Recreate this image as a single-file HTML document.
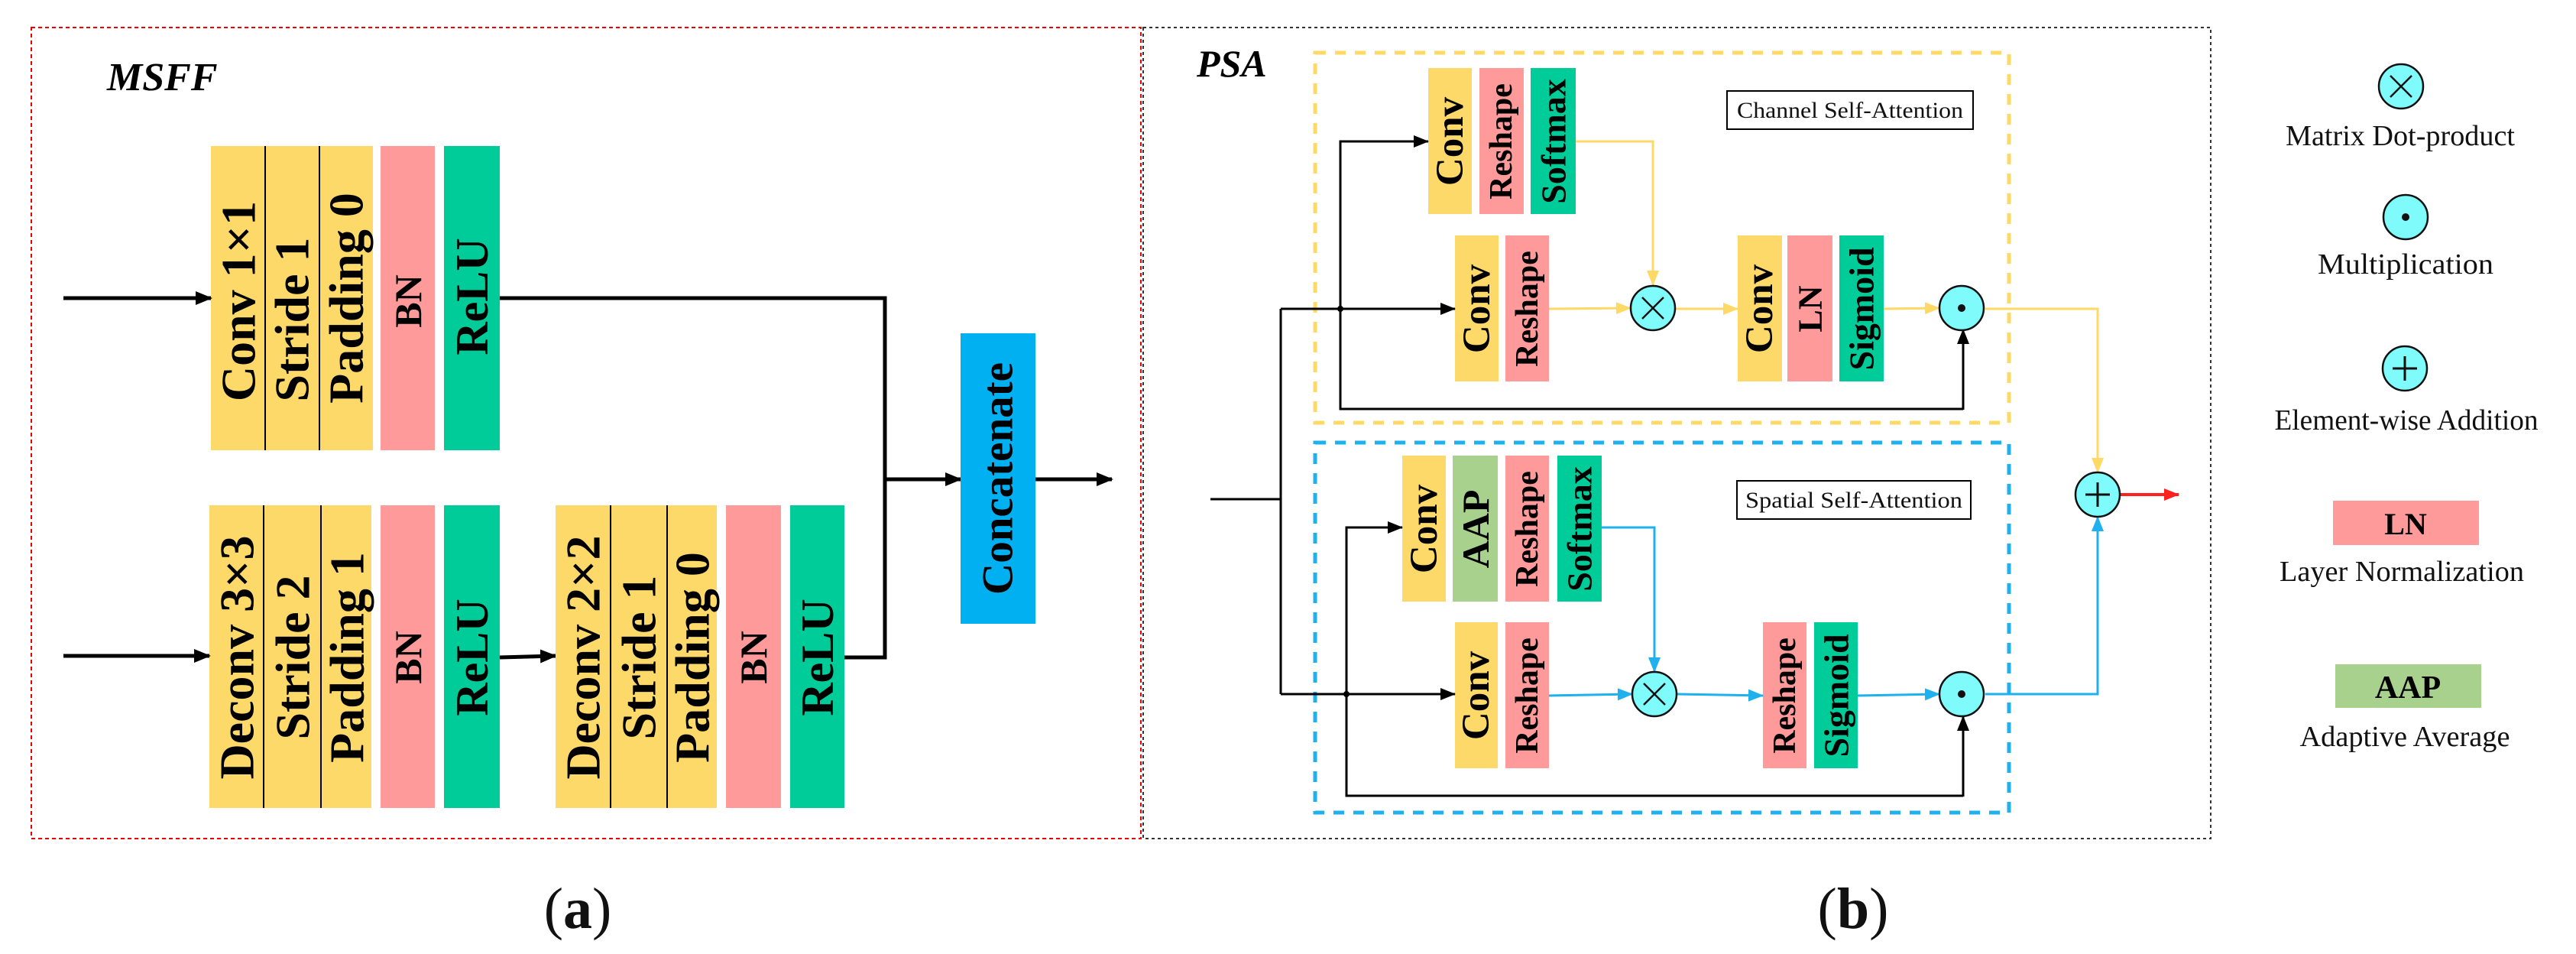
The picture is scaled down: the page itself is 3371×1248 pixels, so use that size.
<!DOCTYPE html>
<html><head><meta charset="utf-8"><style>
html,body{margin:0;padding:0;background:#fff;}
svg{display:block;font-family:"Liberation Serif","DejaVu Serif",serif;}
svg text{font-family:"Liberation Serif","DejaVu Serif",serif;}
.b{font-weight:bold;fill:#000;}
.r{fill:#111;}
</style></head><body>
<svg width="3371" height="1248" viewBox="0 0 3371 1248" xmlns="http://www.w3.org/2000/svg" font-family="Liberation Serif, DejaVu Serif, serif">
<defs>
<marker id="akb" markerWidth="22" markerHeight="22" refX="20" refY="11" orient="auto" markerUnits="userSpaceOnUse"><path d="M0,2 L22,11 L0,20 z" fill="#000"/></marker>
<marker id="ay" markerWidth="20" markerHeight="18" refX="19" refY="9" orient="auto" markerUnits="userSpaceOnUse"><path d="M0,1 L20,9 L0,17 z" fill="#ffd966"/></marker>
<marker id="ab" markerWidth="20" markerHeight="18" refX="19" refY="9" orient="auto" markerUnits="userSpaceOnUse"><path d="M0,1 L20,9 L0,17 z" fill="#1fb0ee"/></marker>
<marker id="ar" markerWidth="20" markerHeight="18" refX="19" refY="9" orient="auto" markerUnits="userSpaceOnUse"><path d="M0,1 L20,9 L0,17 z" fill="#ff2020"/></marker>
<marker id="ak2" markerWidth="20" markerHeight="18" refX="19" refY="9" orient="auto" markerUnits="userSpaceOnUse"><path d="M0,1 L20,9 L0,17 z" fill="#000"/></marker>
</defs>

<!-- MSFF box -->
<rect x="41" y="36" width="1452" height="1061" fill="none" stroke="#e00" stroke-width="2" stroke-dasharray="5,4"/>
<text x="140" y="118" class="b" font-style="italic" font-size="52">MSFF</text>

<!-- top row -->
<rect x="276" y="191" width="212" height="398" fill="#fdd96a"/>
<line x1="347" y1="191" x2="347" y2="589" stroke="#000" stroke-width="2"/>
<line x1="418" y1="191" x2="418" y2="589" stroke="#000" stroke-width="2"/>
<rect x="498" y="191" width="71" height="398" fill="#ff9a9a"/>
<rect x="581" y="191" width="73" height="398" fill="#00cc99"/>
<text class="b" font-size="64" text-anchor="middle" dominant-baseline="central" transform="translate(312,394) rotate(-90)">Conv 1×1</text>
<text class="b" font-size="64" text-anchor="middle" dominant-baseline="central" transform="translate(382,418) rotate(-90)">Stride 1</text>
<text class="b" font-size="64" text-anchor="middle" dominant-baseline="central" transform="translate(453,390) rotate(-90)">Padding 0</text>
<text class="b" font-size="50" text-anchor="middle" dominant-baseline="central" transform="translate(534,394) rotate(-90)">BN</text>
<text class="b" font-size="60" text-anchor="middle" dominant-baseline="central" transform="translate(618,388) rotate(-90)">ReLU</text>
<line x1="83" y1="390" x2="276" y2="390" stroke="#000" stroke-width="5" marker-end="url(#akb)"/>

<!-- bottom row -->
<rect x="274" y="661" width="212" height="396" fill="#fdd96a"/>
<line x1="345" y1="661" x2="345" y2="1057" stroke="#000" stroke-width="2"/>
<line x1="420" y1="661" x2="420" y2="1057" stroke="#000" stroke-width="2"/>
<rect x="498" y="661" width="71" height="396" fill="#ff9a9a"/>
<rect x="581" y="661" width="73" height="396" fill="#00cc99"/>
<text class="b" font-size="64" text-anchor="middle" dominant-baseline="central" transform="translate(310,860) rotate(-90)">Deconv 3×3</text>
<text class="b" font-size="64" text-anchor="middle" dominant-baseline="central" transform="translate(383,860) rotate(-90)">Stride 2</text>
<text class="b" font-size="64" text-anchor="middle" dominant-baseline="central" transform="translate(454,860) rotate(-90)">Padding 1</text>
<text class="b" font-size="50" text-anchor="middle" dominant-baseline="central" transform="translate(534,860) rotate(-90)">BN</text>
<text class="b" font-size="60" text-anchor="middle" dominant-baseline="central" transform="translate(618,860) rotate(-90)">ReLU</text>
<line x1="83" y1="858" x2="274" y2="858" stroke="#000" stroke-width="5" marker-end="url(#akb)"/>
<line x1="654" y1="860" x2="727" y2="858" stroke="#000" stroke-width="5" marker-end="url(#akb)"/>

<rect x="727" y="661" width="211" height="396" fill="#fdd96a"/>
<line x1="799" y1="661" x2="799" y2="1057" stroke="#000" stroke-width="2"/>
<line x1="873" y1="661" x2="873" y2="1057" stroke="#000" stroke-width="2"/>
<rect x="950" y="661" width="72" height="396" fill="#ff9a9a"/>
<rect x="1034" y="661" width="71" height="396" fill="#00cc99"/>
<text class="b" font-size="64" text-anchor="middle" dominant-baseline="central" transform="translate(763,860) rotate(-90)">Deconv 2×2</text>
<text class="b" font-size="64" text-anchor="middle" dominant-baseline="central" transform="translate(836,860) rotate(-90)">Stride 1</text>
<text class="b" font-size="64" text-anchor="middle" dominant-baseline="central" transform="translate(906,860) rotate(-90)">Padding 0</text>
<text class="b" font-size="50" text-anchor="middle" dominant-baseline="central" transform="translate(986,860) rotate(-90)">BN</text>
<text class="b" font-size="60" text-anchor="middle" dominant-baseline="central" transform="translate(1070,860) rotate(-90)">ReLU</text>

<polyline points="654,390 1158,390 1158,860 1105,860" fill="none" stroke="#000" stroke-width="5"/>
<line x1="1158" y1="627" x2="1257" y2="627" stroke="#000" stroke-width="5" marker-end="url(#akb)"/>
<rect x="1257" y="436" width="98" height="380" fill="#00b0f0"/>
<text class="b" font-size="57" text-anchor="middle" dominant-baseline="central" transform="translate(1306,626) rotate(-90)">Concatenate</text>
<line x1="1355" y1="627" x2="1455" y2="627" stroke="#000" stroke-width="5" marker-end="url(#akb)"/>

<text x="756" y="1214" class="r" font-size="76" text-anchor="middle">(<tspan font-weight="bold">a</tspan>)</text>

<!-- PSA box -->
<rect x="1496" y="36" width="1397" height="1061" fill="none" stroke="#333" stroke-width="2" stroke-dasharray="4,4"/>
<text x="1566" y="100" class="b" font-style="italic" font-size="50">PSA</text>

<rect x="1721" y="69" width="908" height="484" fill="none" stroke="#ffd966" stroke-width="5" stroke-dasharray="14,12"/>
<rect x="1721" y="579" width="908" height="484" fill="none" stroke="#1fb0ee" stroke-width="5" stroke-dasharray="14,12"/>

<rect x="2260" y="119" width="322" height="50" fill="#fff" stroke="#000" stroke-width="2"/>
<text x="2421" y="154" class="r" font-size="30" text-anchor="middle" textLength="296" lengthAdjust="spacingAndGlyphs">Channel Self-Attention</text>
<rect x="2273" y="629" width="306" height="50" fill="#fff" stroke="#000" stroke-width="2"/>
<text x="2426" y="664" class="r" font-size="30" text-anchor="middle" textLength="284" lengthAdjust="spacingAndGlyphs">Spatial Self-Attention</text>

<!-- channel branch blocks -->
<rect x="1869" y="89" width="57" height="191" fill="#fdd96a"/>
<rect x="1936" y="89" width="58" height="191" fill="#ff9a9a"/>
<rect x="2003" y="89" width="59" height="191" fill="#00cc99"/>
<text class="b" font-size="51" text-anchor="middle" dominant-baseline="central" transform="translate(1898,185) rotate(-90)">Conv</text>
<text class="b" font-size="42" text-anchor="middle" dominant-baseline="central" transform="translate(1965,185) rotate(-90)">Reshape</text>
<text class="b" font-size="46" text-anchor="middle" dominant-baseline="central" transform="translate(2033,185) rotate(-90)">Softmax</text>

<rect x="1904" y="308" width="57" height="191" fill="#fdd96a"/>
<rect x="1970" y="308" width="57" height="191" fill="#ff9a9a"/>
<text class="b" font-size="51" text-anchor="middle" dominant-baseline="central" transform="translate(1933,404) rotate(-90)">Conv</text>
<text class="b" font-size="42" text-anchor="middle" dominant-baseline="central" transform="translate(1999,404) rotate(-90)">Reshape</text>

<rect x="2274" y="308" width="58" height="191" fill="#fdd96a"/>
<rect x="2339" y="308" width="59" height="191" fill="#ff9a9a"/>
<rect x="2407" y="308" width="58" height="191" fill="#00cc99"/>
<text class="b" font-size="51" text-anchor="middle" dominant-baseline="central" transform="translate(2303,404) rotate(-90)">Conv</text>
<text class="b" font-size="44" text-anchor="middle" dominant-baseline="central" transform="translate(2369,404) rotate(-90)">LN</text>
<text class="b" font-size="46" text-anchor="middle" dominant-baseline="central" transform="translate(2436,404) rotate(-90)">Sigmoid</text>

<!-- spatial branch blocks -->
<rect x="1835" y="596" width="57" height="191" fill="#fdd96a"/>
<rect x="1901" y="596" width="59" height="191" fill="#a9d18e"/>
<rect x="1970" y="596" width="57" height="191" fill="#ff9a9a"/>
<rect x="2038" y="596" width="58" height="191" fill="#00cc99"/>
<text class="b" font-size="51" text-anchor="middle" dominant-baseline="central" transform="translate(1864,692) rotate(-90)">Conv</text>
<text class="b" font-size="50" text-anchor="middle" dominant-baseline="central" transform="translate(1931,692) rotate(-90)">AAP</text>
<text class="b" font-size="42" text-anchor="middle" dominant-baseline="central" transform="translate(1999,692) rotate(-90)">Reshape</text>
<text class="b" font-size="46" text-anchor="middle" dominant-baseline="central" transform="translate(2067,692) rotate(-90)">Softmax</text>

<rect x="1904" y="814" width="56" height="191" fill="#fdd96a"/>
<rect x="1970" y="814" width="57" height="191" fill="#ff9a9a"/>
<text class="b" font-size="51" text-anchor="middle" dominant-baseline="central" transform="translate(1932,910) rotate(-90)">Conv</text>
<text class="b" font-size="42" text-anchor="middle" dominant-baseline="central" transform="translate(1999,910) rotate(-90)">Reshape</text>

<rect x="2307" y="814" width="57" height="191" fill="#ff9a9a"/>
<rect x="2374" y="814" width="57" height="191" fill="#00cc99"/>
<text class="b" font-size="42" text-anchor="middle" dominant-baseline="central" transform="translate(2336,910) rotate(-90)">Reshape</text>
<text class="b" font-size="46" text-anchor="middle" dominant-baseline="central" transform="translate(2403,910) rotate(-90)">Sigmoid</text>

<!-- black connectors -->
<polyline points="1584,653 1676,653" fill="none" stroke="#000" stroke-width="3"/>
<line x1="1676" y1="404" x2="1676" y2="908" stroke="#000" stroke-width="3"/>
<line x1="1676" y1="404" x2="1904" y2="404" stroke="#000" stroke-width="3" marker-end="url(#ak2)"/>
<line x1="1676" y1="908" x2="1904" y2="908" stroke="#000" stroke-width="3" marker-end="url(#ak2)"/>
<polyline points="2569,535 1754,535 1754,185 1869,185" fill="none" stroke="#000" stroke-width="3" marker-end="url(#ak2)"/>
<line x1="2569" y1="536" x2="2569" y2="431" stroke="#000" stroke-width="3" marker-end="url(#ak2)"/>
<circle cx="1754" cy="404" r="4" fill="#000"/>
<polyline points="2569,1041 1762,1041 1762,690 1835,690" fill="none" stroke="#000" stroke-width="3" marker-end="url(#ak2)"/>
<line x1="2569" y1="1042" x2="2569" y2="937" stroke="#000" stroke-width="3" marker-end="url(#ak2)"/>
<circle cx="1762" cy="908" r="4" fill="#000"/>

<!-- yellow connectors -->
<polyline points="2062,185 2163,185 2163,373" fill="none" stroke="#ffd966" stroke-width="3" marker-end="url(#ay)"/>
<line x1="2027" y1="404" x2="2134" y2="403" stroke="#ffd966" stroke-width="3" marker-end="url(#ay)"/>
<line x1="2192" y1="404" x2="2274" y2="404" stroke="#ffd966" stroke-width="3" marker-end="url(#ay)"/>
<line x1="2465" y1="404" x2="2538" y2="403" stroke="#ffd966" stroke-width="3" marker-end="url(#ay)"/>
<polyline points="2598,404 2745,404 2745,618" fill="none" stroke="#ffd966" stroke-width="3" marker-end="url(#ay)"/>

<!-- blue connectors -->
<polyline points="2096,690 2165,690 2165,879" fill="none" stroke="#1fb0ee" stroke-width="3" marker-end="url(#ab)"/>
<line x1="2027" y1="910" x2="2136" y2="908" stroke="#1fb0ee" stroke-width="3" marker-end="url(#ab)"/>
<line x1="2194" y1="908" x2="2307" y2="910" stroke="#1fb0ee" stroke-width="3" marker-end="url(#ab)"/>
<line x1="2431" y1="910" x2="2538" y2="908" stroke="#1fb0ee" stroke-width="3" marker-end="url(#ab)"/>
<polyline points="2598,908 2745,908 2745,676" fill="none" stroke="#1fb0ee" stroke-width="3" marker-end="url(#ab)"/>

<line x1="2774" y1="647" x2="2851" y2="647" stroke="#ff2020" stroke-width="4" marker-end="url(#ar)"/>

<!-- circles -->
<g stroke="#111" stroke-width="2.5">
<circle cx="2163" cy="403" r="29" fill="#7ffbfb"/>
<line x1="2149" y1="389" x2="2177" y2="417"/><line x1="2177" y1="389" x2="2149" y2="417"/>
<circle cx="2567" cy="403" r="29" fill="#7ffbfb"/>
<circle cx="2165" cy="908" r="29" fill="#7ffbfb"/>
<line x1="2151" y1="894" x2="2179" y2="922"/><line x1="2179" y1="894" x2="2151" y2="922"/>
<circle cx="2567" cy="908" r="29" fill="#7ffbfb"/>
<circle cx="2745" cy="647" r="29" fill="#7ffbfb"/>
<line x1="2745" y1="631" x2="2745" y2="663" stroke-width="3"/><line x1="2729" y1="647" x2="2761" y2="647" stroke-width="3"/>
<circle cx="3142" cy="113" r="29" fill="#7ffbfb"/>
<line x1="3128" y1="99" x2="3156" y2="127"/><line x1="3156" y1="99" x2="3128" y2="127"/>
<circle cx="3148" cy="284" r="29" fill="#7ffbfb"/>
<circle cx="3147" cy="482" r="29" fill="#7ffbfb"/>
<line x1="3147" y1="466" x2="3147" y2="498" stroke-width="3"/><line x1="3131" y1="482" x2="3163" y2="482" stroke-width="3"/>
</g>
<circle cx="2567" cy="403" r="5" fill="#111"/>
<circle cx="2567" cy="908" r="5" fill="#111"/>
<circle cx="3148" cy="284" r="5" fill="#111"/>

<text x="3141" y="190" class="r" font-size="38" text-anchor="middle" textLength="300" lengthAdjust="spacingAndGlyphs">Matrix Dot-product</text>
<text x="3148" y="358" class="r" font-size="38" text-anchor="middle" textLength="230" lengthAdjust="spacingAndGlyphs">Multiplication</text>
<text x="3149" y="562" class="r" font-size="38" text-anchor="middle" textLength="345" lengthAdjust="spacingAndGlyphs">Element-wise Addition</text>
<rect x="3053" y="655" width="191" height="58" fill="#ff9a9a"/>
<text x="3148" y="699" class="b" font-size="40" text-anchor="middle">LN</text>
<text x="3143" y="760" class="r" font-size="38" text-anchor="middle" textLength="320" lengthAdjust="spacingAndGlyphs">Layer Normalization</text>
<rect x="3056" y="869" width="191" height="57" fill="#a9d18e"/>
<text x="3151" y="913" class="b" font-size="42" text-anchor="middle">AAP</text>
<text x="3147" y="976" class="r" font-size="38" text-anchor="middle" textLength="275" lengthAdjust="spacingAndGlyphs">Adaptive Average</text>

<text x="2425" y="1214" class="r" font-size="76" text-anchor="middle">(<tspan font-weight="bold">b</tspan>)</text>
</svg>
</body></html>
